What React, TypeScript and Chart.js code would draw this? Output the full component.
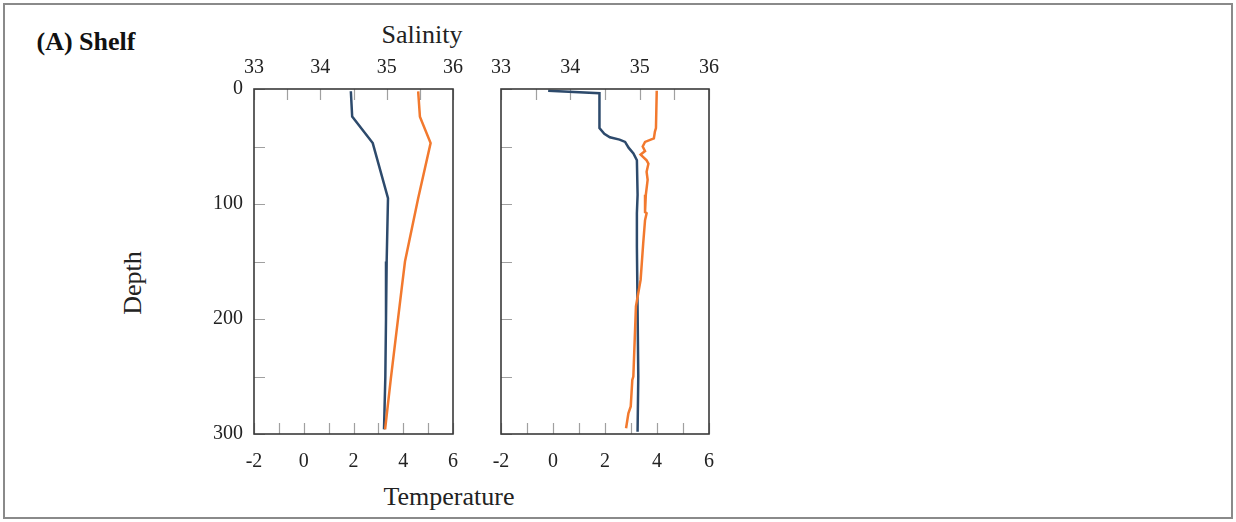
import React, { useEffect, useRef } from "react";
import { Chart, registerables } from "chart.js";

Chart.register(...registerables);

// ---- Data ----
// Left panel
const LEFT_SAL_DEPTH = [2, 24, 47, 95, 150, 200, 250, 296];
const LEFT_SAL = [34.46, 34.48, 34.79, 35.02, 35.0, 34.99, 34.98, 34.96];
const LEFT_TEMP_DEPTH = [2, 24, 47, 95, 150, 173, 252, 296];
const LEFT_TEMP = [4.6, 4.67, 5.1, 4.6, 4.07, 3.94, 3.5, 3.27];

// Right panel
const RIGHT_SAL_DEPTH = [1.5, 3.7, 34, 39, 42, 44, 46, 51, 56, 62, 92, 108, 137, 192, 250, 298];
const RIGHT_SAL = [33.68, 34.42, 34.42, 34.49, 34.57, 34.71, 34.79, 34.84, 34.91, 34.96, 34.97, 34.96, 34.96, 34.97, 34.98, 34.97];
const RIGHT_TEMP_DEPTH = [1.5, 34, 37, 43, 46, 50, 54, 57, 62, 65, 72, 79, 92, 107, 108, 114, 134, 166, 189, 250, 253, 276, 282, 295];
const RIGHT_TEMP = [3.99, 3.96, 3.92, 3.88, 3.54, 3.45, 3.54, 3.37, 3.6, 3.67, 3.6, 3.64, 3.57, 3.54, 3.6, 3.54, 3.47, 3.37, 3.19, 3.09, 3.05, 2.99, 2.9, 2.81];

// Axis ticks
const DEPTH_TICKS = [0, 50, 100, 150, 200, 250, 300];
const SAL_TICKS = [33, 33.5, 34, 34.5, 35, 35.5, 36];
const TEMP_TICKS = [-2, -1, 0, 1, 2, 3, 4, 5, 6];

const BLUE = "#2d4a6c";
const ORANGE = "#f2792e";
const FONT = '"Liberation Serif", "Times New Roman", serif';
const TEXT = "#222222";

const pairs = (xs: number[], ys: number[]) => xs.map((x, i) => ({ x, y: ys[i] }));

const framePlugin = {
  id: "frameTicks",
  beforeDatasetsDraw(chart: any) {
    const { ctx, chartArea: a, scales } = chart;
    ctx.save();
    ctx.strokeStyle = "#a0a0a0";
    ctx.lineWidth = 1.2;
    const L = 11;
    ctx.beginPath();
    DEPTH_TICKS.forEach((d) => {
      const y = Math.round(scales.y.getPixelForValue(d)) + 0.5;
      ctx.moveTo(a.left, y);
      ctx.lineTo(a.left + L, y);
    });
    SAL_TICKS.forEach((s) => {
      const x = Math.round(scales.xs.getPixelForValue(s)) + 0.5;
      ctx.moveTo(x, a.top);
      ctx.lineTo(x, a.top + L);
    });
    TEMP_TICKS.forEach((t) => {
      const x = Math.round(scales.xt.getPixelForValue(t)) + 0.5;
      ctx.moveTo(x, a.bottom);
      ctx.lineTo(x, a.bottom - L);
    });
    ctx.stroke();
    ctx.restore();
  },
  afterDraw(chart: any) {
    const { ctx, chartArea: a } = chart;
    ctx.save();
    ctx.strokeStyle = "#3a3a3a";
    ctx.lineWidth = 1.6;
    ctx.strokeRect(a.left, a.top, a.right - a.left, a.bottom - a.top);
    ctx.restore();
  },
};

function makeConfig(
  salDepth: number[],
  sal: number[],
  tempDepth: number[],
  temp: number[],
  showDepthLabels: boolean,
  yWidth: number,
  rightPad: number
): any {
  const tickFont = { family: FONT, size: 20 };
  return {
    type: "scatter",
    data: {
      datasets: [
        {
          label: "Temperature",
          data: pairs(temp, tempDepth),
          xAxisID: "xt",
          yAxisID: "y",
          showLine: true,
          borderColor: ORANGE,
          backgroundColor: ORANGE,
          borderWidth: 2.5,
          pointRadius: 0,
          tension: 0,
        },
        {
          label: "Salinity",
          data: pairs(sal, salDepth),
          xAxisID: "xs",
          yAxisID: "y",
          showLine: true,
          borderColor: BLUE,
          backgroundColor: BLUE,
          borderWidth: 2.5,
          pointRadius: 0,
          tension: 0,
        },
      ],
    },
    options: {
      responsive: false,
      animation: false,
      devicePixelRatio: 1,
      layout: { padding: { left: 0, right: rightPad, top: 0, bottom: 0 } },
      plugins: { legend: { display: false }, tooltip: { enabled: false } },
      scales: {
        y: {
          type: "linear",
          position: "left",
          reverse: true,
          min: 0,
          max: 300,
          ticks: { display: showDepthLabels, stepSize: 100, padding: 11, font: tickFont, color: TEXT },
          grid: { display: false, drawTicks: false },
          border: { display: false },
          afterFit: (s: any) => {
            s.width = yWidth;
            s.paddingTop = 0;
            s.paddingBottom = 0;
          },
        },
        xs: {
          type: "linear",
          position: "top",
          min: 33,
          max: 36,
          ticks: { stepSize: 1, padding: 9, font: tickFont, color: TEXT, maxRotation: 0 },
          grid: { display: false, drawTicks: false },
          border: { display: false },
          afterFit: (s: any) => {
            s.height = 39;
            s.paddingLeft = 0;
            s.paddingRight = 0;
          },
        },
        xt: {
          type: "linear",
          position: "bottom",
          min: -2,
          max: 6,
          ticks: { stepSize: 2, padding: 16, font: tickFont, color: TEXT, maxRotation: 0 },
          grid: { display: false, drawTicks: false },
          border: { display: false },
          afterFit: (s: any) => {
            s.height = 46;
            s.paddingLeft = 0;
            s.paddingRight = 0;
          },
        },
      },
    },
    plugins: [framePlugin],
  };
}

export default function App() {
  const ref1 = useRef<HTMLCanvasElement>(null);
  const ref2 = useRef<HTMLCanvasElement>(null);

  useEffect(() => {
    document.body.style.margin = "0";
    const c1 = new Chart(
      ref1.current as HTMLCanvasElement,
      makeConfig(LEFT_SAL_DEPTH, LEFT_SAL, LEFT_TEMP_DEPTH, LEFT_TEMP, true, 54, 17)
    );
    const c2 = new Chart(
      ref2.current as HTMLCanvasElement,
      makeConfig(RIGHT_SAL_DEPTH, RIGHT_SAL, RIGHT_TEMP_DEPTH, RIGHT_TEMP, false, 21, 21)
    );
    return () => {
      c1.destroy();
      c2.destroy();
    };
  }, []);

  const label = (text: string, x: number, y: number, size: number, extra: any = {}) => (
    <div
      style={{
        position: "absolute",
        left: x,
        top: y,
        transform: "translate(-50%, -50%)" + (extra.rotate ? ` rotate(${extra.rotate}deg)` : ""),
        fontSize: size,
        fontFamily: FONT,
        fontWeight: extra.bold ? "bold" : "normal",
        color: extra.color || TEXT,
        whiteSpace: "nowrap",
        lineHeight: 1,
      }}
    >
      {text}
    </div>
  );

  return (
    <div style={{ position: "relative", width: 1236, height: 522, background: "#fff", overflow: "hidden" }}>
      <div
        style={{
          position: "absolute",
          left: 3,
          top: 3,
          width: 1226,
          height: 512,
          border: "2px solid #8a8a8a",
        }}
      />
      <canvas ref={ref1} width={270} height={430} style={{ position: "absolute", left: 200, top: 50 }} />
      <canvas ref={ref2} width={250} height={430} style={{ position: "absolute", left: 480, top: 50 }} />
      {label("(A) Shelf", 86, 42, 26, { bold: true, color: "#111" })}
      {label("Salinity", 422, 35, 26)}
      {label("Temperature", 449, 497, 26)}
      {label("Depth", 133, 283, 26, { rotate: -90 })}
    </div>
  );
}
